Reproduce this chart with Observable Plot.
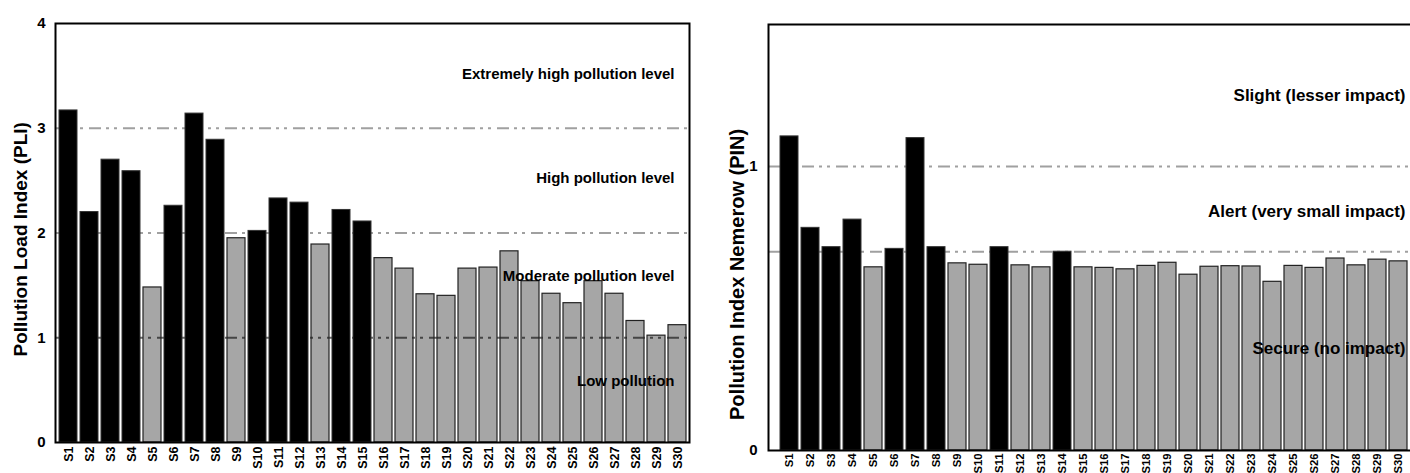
<!DOCTYPE html>
<html><head><meta charset="utf-8">
<script src="https://cdn.jsdelivr.net/npm/d3@7"></script>
<script src="https://cdn.jsdelivr.net/npm/@observablehq/plot@0.6"></script>
<style>
html,body{margin:0;padding:0;background:#fff;overflow:hidden}
#wrap{display:flex;width:1410px;height:473px;overflow:hidden}
#wrap svg{flex:none}
</style></head><body><div id="wrap"></div>
<script>
const sites = ["S1","S2","S3","S4","S5","S6","S7","S8","S9","S10","S11","S12","S13","S14","S15","S16","S17","S18","S19","S20","S21","S22","S23","S24","S25","S26","S27","S28","S29","S30"];
const pli = [3.17,2.20,2.70,2.59,1.48,2.26,3.14,2.89,1.95,2.02,2.33,2.29,1.89,2.22,2.11,1.76,1.66,1.415,1.40,1.66,1.67,1.825,1.54,1.42,1.33,1.54,1.42,1.16,1.02,1.12];
const pin = [1.106,0.784,0.716,0.813,0.645,0.71,1.10,0.716,0.659,0.654,0.716,0.652,0.645,0.70,0.645,0.643,0.638,0.65,0.661,0.619,0.647,0.649,0.648,0.594,0.65,0.643,0.676,0.652,0.672,0.666];
const pliThresholds = [1, 2, 3];
const pinThresholds = [0.7, 1];
const pliTicks = [0, 1, 2, 3, 4];
const pinTicks = [0, 1];
const pliLabels = [
  {text: "Extremely high pollution level", y: 3.52},
  {text: "High pollution level", y: 2.52},
  {text: "Moderate pollution level", y: 1.59},
  {text: "Low pollution", y: 0.585}
];
const pinLabels = [
  {text: "Slight (lesser impact)", y: 1.249},
  {text: "Alert (very small impact)", y: 0.84},
  {text: "Secure (no impact)", y: 0.36}
];
const pliTitle = [{text: "Pollution Load Index (PLI)", y: 1.94}];
const pinTitle = [{text: "Pollution Index Nemerow (PIN)", y: 0.62}];

const pliData = sites.map((s, i) => ({site: s, value: pli[i]}));
const pinData = sites.map((s, i) => ({site: s, value: pin[i]}));
const font = "'Liberation Sans', Arial, Helvetica, sans-serif";
const dash = "12,5,3,5,3,6";

const left = Plot.plot({
  width: 700, height: 473,
  marginLeft: 55, marginRight: 11, marginTop: 23, marginBottom: 31,
  style: {fontFamily: font, fontWeight: "bold", background: "white", color: "black", overflow: "visible"},
  x: {type: "band", domain: sites, paddingInner: 0.15, paddingOuter: 0.1},
  y: {domain: [0, 4]},
  marks: [
    Plot.ruleY(pliThresholds.filter(d => d !== 1), {y: d => d, stroke: "#a0a0a0", strokeWidth: 2, strokeDasharray: dash}),
    Plot.ruleY(pliThresholds.filter(d => d === 1), {y: d => d, stroke: "#6a6a6a", strokeWidth: 2, strokeDasharray: dash}),
    Plot.barY(pliData.filter(d => d.value >= 2), {x: "site", y: "value", fill: "black", stroke: "#333", strokeWidth: 1}),
    Plot.barY(pliData.filter(d => d.value < 2), {x: "site", y: "value", fill: "black", fillOpacity: 0.35, stroke: "#222", strokeWidth: 1.2}),
    Plot.text(pliLabels, {y: "y", text: "text", frameAnchor: "right", textAnchor: "end", dx: -15, fontSize: 15, fontWeight: "bold", fill: "black"}),
    Plot.text(pliTitle, {y: "y", text: "text", frameAnchor: "left", rotate: -90, textAnchor: "middle", lineAnchor: "middle", dx: -35, fontSize: 19, fontWeight: "bold", fill: "black"}),
    Plot.axisY({ticks: pliTicks, tickFormat: "d", tickSize: 0, tickPadding: 10, fontSize: 15, fontWeight: "bold", label: null}),
    Plot.axisX({tickSize: 0, tickRotate: -90, tickPadding: 4, fontSize: 12.5, fontWeight: "bold", label: null}),
    Plot.frame({stroke: "black", strokeWidth: 2})
  ]
});

const right = Plot.plot({
  width: 730, height: 473,
  marginLeft: 68, marginRight: 12, marginTop: 24, marginBottom: 23,
  style: {fontFamily: font, fontWeight: "bold", background: "white", color: "black"},
  x: {type: "band", domain: sites, paddingInner: 0.15, paddingOuter: 0.05},
  y: {domain: [0, 1.5]},
  marks: [
    Plot.ruleY(pinThresholds, {y: d => d, stroke: "#a0a0a0", strokeWidth: 2, strokeDasharray: dash}),
    Plot.barY(pinData.filter(d => d.value >= 0.7), {x: "site", y: "value", fill: "black", stroke: "#333", strokeWidth: 1}),
    Plot.barY(pinData.filter(d => d.value < 0.7), {x: "site", y: "value", fill: "black", fillOpacity: 0.35, stroke: "#222", strokeWidth: 1.2}),
    Plot.text(pinLabels, {y: "y", text: "text", frameAnchor: "right", textAnchor: "end", dx: -13, fontSize: 17, fontWeight: "bold", fill: "black"}),
    Plot.text(pinTitle, {y: "y", text: "text", frameAnchor: "left", rotate: -90, textAnchor: "middle", lineAnchor: "middle", dx: -31, fontSize: 20, fontWeight: "bold", fill: "black"}),
    Plot.axisY({ticks: pinTicks, tickFormat: "d", tickSize: 0, tickPadding: 11, fontSize: 15, fontWeight: "bold", label: null}),
    Plot.axisX({tickSize: 0, tickRotate: -90, tickPadding: 3, fontSize: 11.3, fontWeight: "bold", label: null}),
    Plot.frame({stroke: "black", strokeWidth: 2})
  ]
});

document.getElementById("wrap").append(left, right);
</script>
</body></html>
